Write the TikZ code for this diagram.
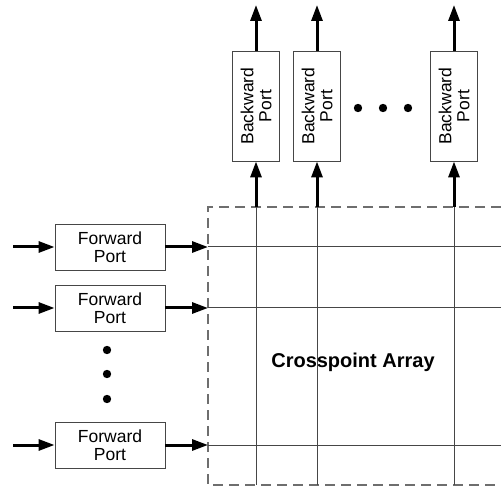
\documentclass[tikz,border=0pt]{standalone}
\usepackage{fontspec}
\setmainfont{Liberation Sans}
\usetikzlibrary{arrows.meta}
\begin{document}
\begin{tikzpicture}[x=1pt,y=-1pt,
    portbox/.style={draw=linegray, line width=0.9pt, inner sep=0pt, align=center,
      font=\fontsize{17.5}{18}\selectfont},
    fwdport/.style={portbox, minimum width=110pt, minimum height=46pt},
    bwdport/.style={portbox, rotate=90, minimum width=110pt, minimum height=47pt},
    bigarrow/.style={line width=3pt, -{Triangle[length=16pt,width=11pt]}},
    gridline/.style={draw=linegray, line width=1pt}]
    % Define colors
    \definecolor{linegray}{RGB}{70,70,70}
    \definecolor{dashgray}{RGB}{110,110,110}

    \useasboundingbox (0,0) rectangle (501,489);

    % Crosspoint array frame
    \draw[dashgray, line width=1.2pt, dash pattern=on 10pt off 6pt]
      (501,207) -| (208,485) -- (501,485);
    \node[font=\fontsize{20}{22}\selectfont\bfseries] (xarray) at (353,362) {Crosspoint Array};

    % Forward ports
    \node[fwdport] (fp1) at (110,247) {Forward\\Port};
    \node[fwdport] (fp2) at (110,308) {Forward\\Port};
    \node[fwdport] (fp3) at (110,445) {Forward\\Port};

    % Backward ports
    \node[bwdport] (bp1) at (256,106) {Backward\\Port};
    \node[bwdport] (bp2) at (317,106) {Backward\\Port};
    \node[bwdport] (bp3) at (454,106) {Backward\\Port};

    % Rows
    \foreach \i/\y in {1/247,2/308,3/445} {
      \coordinate (in\i) at (13,\y);
      \coordinate (rowl\i) at (208,\y);
      \coordinate (rowr\i) at (501,\y);
      \draw[bigarrow] (in\i) -- (fp\i.west);
      \draw[bigarrow] (fp\i.east) -- (rowl\i);
      \draw[gridline] (rowl\i) -- (rowr\i);
    }

    % Columns
    \foreach \i/\x in {1/256,2/317,3/454} {
      \coordinate (colt\i) at (\x,207);
      \coordinate (colb\i) at (\x,485);
      \coordinate (out\i) at (\x,5);
      \draw[gridline] (colt\i) -- (colb\i);
      \draw[bigarrow] (colt\i) -- (bp\i.west);
      \draw[bigarrow] (bp\i.east) -- (out\i);
    }

    % Ellipsis dots
    \foreach \x in {358,383,408}
      \fill (\x,108) circle (4.2pt);
    \foreach \y in {350,374,399}
      \fill (107,\y) circle (4.2pt);
\end{tikzpicture}
\end{document}
